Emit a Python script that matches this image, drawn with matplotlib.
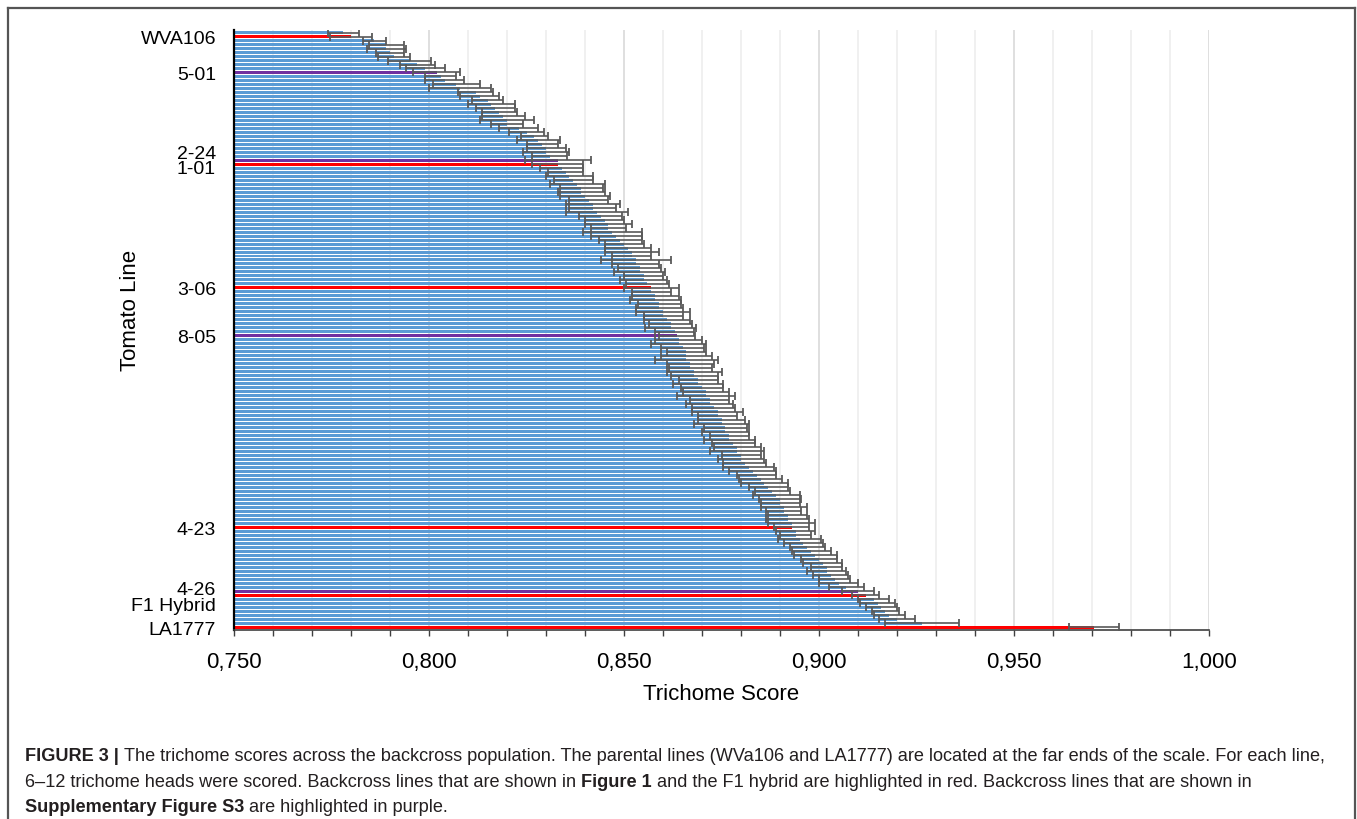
import matplotlib
matplotlib.use("Agg")
import matplotlib.pyplot as plt
from matplotlib.lines import Line2D
import numpy as np

plt.rcParams['font.family'] = ['Liberation Sans', 'DejaVu Sans']

# ---- data (top to bottom) ----
scores = [
    0.778, 0.780, 0.786, 0.789, 0.789, 0.790, 0.791, 0.795, 0.797, 0.799,
    0.802, 0.803, 0.804, 0.807, 0.808, 0.812, 0.813, 0.815, 0.816, 0.817,
    0.818, 0.819, 0.820, 0.820, 0.823, 0.825, 0.827, 0.828, 0.829, 0.830,
    0.830, 0.831, 0.833, 0.833, 0.834, 0.835, 0.836, 0.837, 0.838, 0.839,
    0.839, 0.840, 0.841, 0.842, 0.842, 0.843, 0.844, 0.845, 0.846, 0.846,
    0.847, 0.848, 0.849, 0.850, 0.851, 0.852, 0.852, 0.853, 0.853, 0.854,
    0.854, 0.855, 0.855, 0.856, 0.857, 0.857, 0.858, 0.858, 0.859, 0.859,
    0.860, 0.860, 0.861, 0.862, 0.862, 0.863, 0.8636, 0.864, 0.864, 0.865,
    0.866, 0.866, 0.866, 0.867, 0.867, 0.868, 0.868, 0.869, 0.869, 0.870,
    0.871, 0.871, 0.872, 0.872, 0.873, 0.874, 0.874, 0.875, 0.875, 0.876,
    0.876, 0.877, 0.877, 0.878, 0.879, 0.879, 0.880, 0.880, 0.881, 0.882,
    0.883, 0.884, 0.885, 0.886, 0.887, 0.888, 0.889, 0.890, 0.890, 0.891,
    0.891, 0.892, 0.892, 0.893, 0.893, 0.894, 0.894, 0.895, 0.896, 0.897,
    0.898, 0.899, 0.900, 0.901, 0.902, 0.902, 0.903, 0.904, 0.905, 0.907,
    0.910, 0.912, 0.914, 0.915, 0.916, 0.917, 0.918, 0.920, 0.9265, 0.9705,
]
errors = [
    0.0040, 0.0053, 0.0030, 0.0045, 0.0050, 0.0035, 0.0040, 0.0055, 0.0045, 0.0050,
    0.0060, 0.0040, 0.0050, 0.0060, 0.0080, 0.0045, 0.0050, 0.0040, 0.0060, 0.0050,
    0.0045, 0.0055, 0.0070, 0.0040, 0.0050, 0.0045, 0.0035, 0.0055, 0.0040, 0.0050,
    0.0060, 0.0045, 0.0085, 0.0065, 0.0055, 0.0045, 0.0060, 0.0050, 0.0070, 0.0055,
    0.0060, 0.0065, 0.0050, 0.0070, 0.0060, 0.0080, 0.0055, 0.0050, 0.0060, 0.0045,
    0.0075, 0.0065, 0.0055, 0.0050, 0.0060, 0.0070, 0.0050, 0.0090, 0.0060, 0.0055,
    0.0065, 0.0050, 0.0060, 0.0055, 0.0070, 0.0050, 0.0060, 0.0065, 0.0055, 0.0060,
    0.0070, 0.0050, 0.0060, 0.0055, 0.0065, 0.0050, 0.0045, 0.0060, 0.0070, 0.0055,
    0.0050, 0.0065, 0.0080, 0.0060, 0.0055, 0.0070, 0.0060, 0.0050, 0.0065, 0.0055,
    0.0060, 0.0075, 0.0050, 0.0060, 0.0055, 0.0065, 0.0050, 0.0060, 0.0070, 0.0055,
    0.0060, 0.0050, 0.0065, 0.0055, 0.0060, 0.0070, 0.0050, 0.0060, 0.0055, 0.0065,
    0.0060, 0.0050, 0.0055, 0.0060, 0.0050, 0.0045, 0.0060, 0.0055, 0.0050, 0.0060,
    0.0045, 0.0050, 0.0055, 0.0060, 0.0045, 0.0050, 0.0040, 0.0055, 0.0050, 0.0045,
    0.0050, 0.0055, 0.0045, 0.0050, 0.0040, 0.0050, 0.0045, 0.0040, 0.0050, 0.0045,
    0.0040, 0.0035, 0.0040, 0.0045, 0.0040, 0.0035, 0.0040, 0.0045, 0.0095, 0.0064,
]
highlight_red = [1, 33, 64, 124, 141, 149]
highlight_purple = [10, 32, 76, 140]
label_idx = [1, 10, 32, 33, 64, 76, 124, 140, 141, 149]
label_text = ["WVA106", "5-01", "2-24", "1-01", "3-06", "8-05", "4-23", "4-26", "F1 Hybrid", "LA1777"]
label_shift = [0, 0, -2.1, 0.5, 0, 0, 0, -1.0, 2.2, 0]
x_ticks = [0.75, 0.80, 0.85, 0.90, 0.95, 1.00]
x_tick_labels = ["0,750", "0,800", "0,850", "0,900", "0,950", "1,000"]

W, H = 1357, 820
fig = plt.figure(figsize=(W / 100, H / 100), dpi=100)
ax = fig.add_axes([234 / W, 1 - 631 / H, (1209 - 234) / W, 600 / H])

n = len(scores)
ypos = np.arange(n)
colors = []
for i in range(n):
    if i in highlight_red:
        colors.append('#FF0000')
    elif i in highlight_purple:
        colors.append('#7030A0')
    else:
        colors.append('#5B9BD5')

ax.barh(ypos, scores, height=0.75, color=colors, zorder=2, linewidth=0)
ax.errorbar(scores, ypos, xerr=errors, fmt='none', ecolor='#595959',
            elinewidth=1.2, capsize=3.2, capthick=1.3, zorder=3)

ax.set_xlim(0.75, 1.0)
ax.set_ylim(n - 0.25, -0.65)

# grid
for v in np.arange(0.76, 1.0001, 0.01):
    major = abs(round(v * 100) % 5) < 1e-9
    ax.axvline(v, color='#D9D9D9' if major else '#EDEDED', lw=1.2, zorder=0)

ax.set_xticks(x_ticks)
ax.set_xticklabels(x_tick_labels, fontsize=16)
ax.set_xticks(np.arange(0.76, 1.0, 0.01), minor=True)
ax.tick_params(axis='x', which='both', direction='out', length=4, width=1,
               color='#404040', pad=11)
ax.set_yticks([label_idx[k] + label_shift[k] for k in range(len(label_idx))])
ax.set_yticklabels(label_text, fontsize=14)
ax.tick_params(axis='y', length=0, pad=13)

for s in ['top', 'right']:
    ax.spines[s].set_visible(False)
ax.spines['left'].set_color('black')
ax.spines['left'].set_linewidth(1.6)
ax.spines['bottom'].set_color('#404040')
ax.spines['bottom'].set_linewidth(1.2)
ax.spines['bottom'].set_linestyle((0, (3, 1)))

ax.set_xlabel("Trichome Score", fontsize=16, labelpad=8)
ax.set_ylabel("Tomato Line", fontsize=16)
ax.yaxis.set_label_coords((141 - 234) / 975, (631 - 310) / 600)

# figure frame
fig.add_artist(Line2D([8 / W, 1355 / W], [1 - 8.5 / H, 1 - 8.5 / H], color='#555555', lw=1.6))
fig.add_artist(Line2D([8 / W, 8 / W], [0, 1 - 8.5 / H], color='#555555', lw=1.6))
fig.add_artist(Line2D([1355 / W, 1355 / W], [0, 1 - 8.5 / H], color='#555555', lw=1.6))

# caption with mixed bold
renderer = fig.canvas.get_renderer()
cap_lines = [
    [("FIGURE 3 | ", 'bold'), ("The trichome scores across the backcross population. The parental lines (WVa106 and LA1777) are located at the far ends of the scale. For each line,", 'normal')],
    [("6\u201312 trichome heads were scored. Backcross lines that are shown in ", 'normal'), ("Figure 1", 'bold'), (" and the F1 hybrid are highlighted in red. Backcross lines that are shown in", 'normal')],
    [("Supplementary Figure S3", 'bold'), (" are highlighted in purple.", 'normal')],
]
line_y = [757, 783, 808]
for segs, yy in zip(cap_lines, line_y):
    x = 25
    for txt, wt in segs:
        t = fig.text(x / W, 1 - yy / H, txt, fontsize=13.1, fontweight=wt,
                     color='#231F20', va='center', ha='left')
        bb = t.get_window_extent(renderer=renderer)
        x += bb.width

fig.savefig("out.png", dpi=100)
